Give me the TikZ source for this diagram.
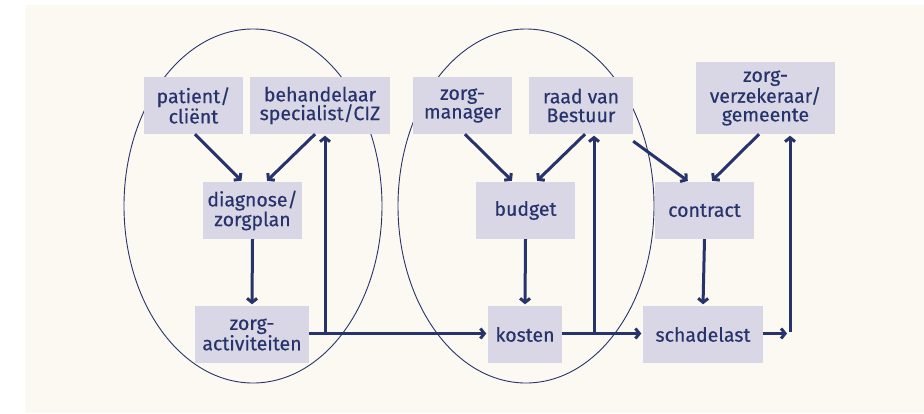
\documentclass[tikz,border=0pt]{standalone}
\usepackage{fontspec}
\setmainfont{Fira Sans}[FakeBold=0.4]
\usetikzlibrary{arrows.meta,positioning,calc}
\definecolor{navy}{HTML}{27336B}
\definecolor{boxfill}{HTML}{D9D7E5}
\definecolor{cream}{HTML}{FCF9F2}
\tikzset{
  bx/.style={fill=boxfill, inner sep=0pt, text=navy, align=center,
    font=\fontsize{19.5}{18.7}\selectfont},
  conn/.style={draw=navy, line width=3pt, -{Straight Barb[length=4pt,width=10pt]}, shorten >=1.5pt},
  ring/.style={draw=navy, line width=0.9pt},
}
\begin{document}
\begin{tikzpicture}[x=1pt,y=-1pt]
\useasboundingbox (0,0) rectangle (924,413);
\fill[cream] (25,5) rectangle (924,413);
% ellipses
\draw[ring] (253,206) ellipse [x radius=129, y radius=177];
\draw[ring] (526,206) ellipse [x radius=128, y radius=177];
% boxes
\node[bx, minimum width=99pt, minimum height=57pt] (pat) at (193.5,105.5) {patient/\\cliënt};
\node[bx, minimum width=140pt, minimum height=57pt] (beh) at (320,105.5) {behandelaar\\specialist/CIZ};
\node[bx, minimum width=99pt, minimum height=57pt] (diag) at (252.5,210.5) {diagnose/\\zorgplan};
\node[bx, minimum width=114pt, minimum height=57pt] (act) at (252,334.5) {zorg-\\activiteiten};
\node[bx, minimum width=99pt, minimum height=57pt] (zm) at (462.5,105.5) {zorg-\\manager};
\node[bx, minimum width=104pt, minimum height=57pt] (raad) at (581,105.5) {raad van\\Bestuur};
\node[bx, minimum width=139pt, minimum height=72pt] (zv) at (765.5,98) {zorg-\\verzekeraar/\\gemeente};
\node[bx, minimum width=99pt, minimum height=57pt] (bud) at (525.5,210.5) {budget};
\node[bx, minimum width=99pt, minimum height=57pt] (con) at (704.5,210.5) {contract};
\node[bx, minimum width=74pt, minimum height=57pt] (kos) at (525,334.5) {kosten};
\node[bx, minimum width=120pt, minimum height=57pt] (sch) at (703,334.5) {schadelast};
% corner coordinates
\coordinate (c1) at (325,333.5);
\coordinate (c2) at (594,333.5);
\coordinate (c3) at (790,333.5);
% diagonal arrows
\draw[conn] ([xshift=1.5pt]pat.south) -- ([xshift=-10pt]diag.north);
\draw[conn] ([xshift=-5pt]beh.south) -- ([xshift=13.5pt]diag.north);
\draw[conn] ([xshift=2.5pt]zm.south) -- ([xshift=-12.5pt]bud.north);
\draw[conn] ([xshift=4pt]raad.south) -- ([xshift=10.5pt]bud.north);
\draw[conn] ([yshift=-7pt]raad.south east) -- ([xshift=-15.5pt]con.north);
\draw[conn] ([xshift=-6.5pt]zv.south) -- ([xshift=6.5pt]con.north);
% vertical arrows
\draw[conn] (diag.south) -- (act.north);
\draw[conn] (bud.south) -- (kos.north);
\draw[conn] (con.south) -- (sch.north);
% horizontal flow
\draw[conn] (act.east |- c1) -- (kos.west |- c1);
\draw[conn] (kos.east |- c2) -- (sch.west |- c2);
\draw[conn, shorten >=3pt] (sch.east |- c3) -- (c3);
% feedback verticals
\draw[conn] (c1) -- (beh.south -| c1);
\draw[conn] (c2) -- (raad.south -| c2);
\draw[conn] ([yshift=1.5pt]c3) -- (zv.south -| c3);
\end{tikzpicture}
\end{document}
